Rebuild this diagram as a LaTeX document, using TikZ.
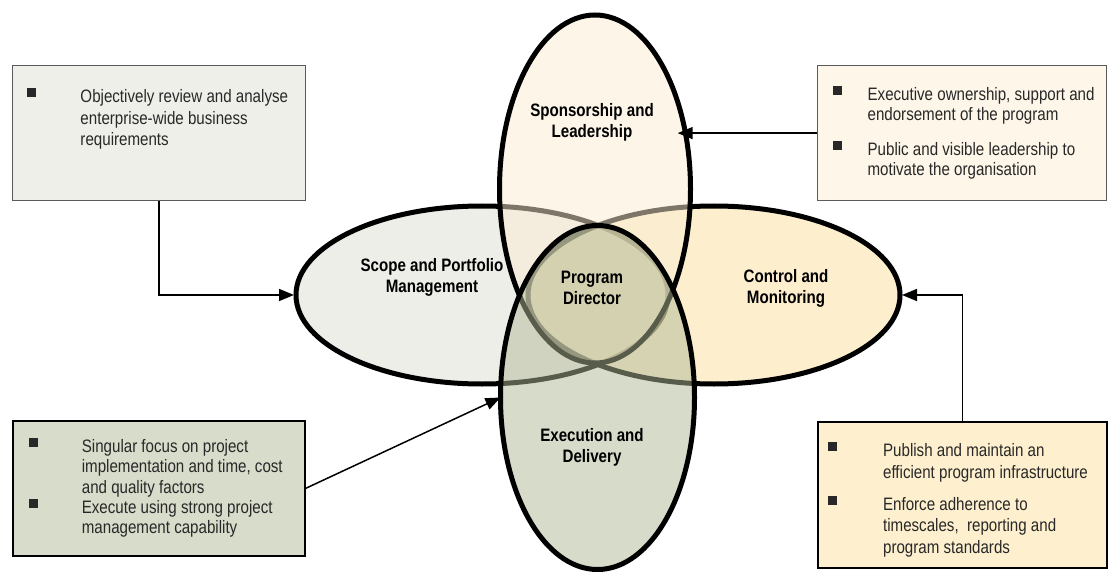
\documentclass[tikz,border=0pt]{standalone}
\usepackage{fontspec}
\setmainfont{Liberation Sans}[FakeStretch=0.84]
\usetikzlibrary{shapes.geometric,arrows.meta}

% translucent fills of the four areas (painted at 50% opacity)
\definecolor{scopefill}{RGB}{223,223,213}
\definecolor{controlfill}{RGB}{253,225,159}
\definecolor{sponsorfill}{RGB}{251,237,211}
\definecolor{execfill}{RGB}{177,185,151}
% opaque fills of the note boxes
\definecolor{reqfill}{RGB}{239,239,234}
\definecolor{leadfill}{RGB}{253,246,233}
\definecolor{deliverfill}{RGB}{216,220,203}
\definecolor{stdfill}{RGB}{254,240,206}
\definecolor{notetext}{RGB}{40,40,40}
\definecolor{thinframe}{RGB}{90,90,90}

% line strut and bulleted item: #1 bullet indent, #2 text indent, #3 lines
\newcommand\notestrut{\vrule height 14pt depth 5pt width 0pt}
\newcommand\noteitem[3]{\par\noindent\hangindent=#2\relax\hangafter=1\relax
  \makebox[#2][l]{\hspace*{#1}\raisebox{5.5pt}{\rule{9pt}{9pt}}}\notestrut#3\notestrut\par}

\tikzset{
  venn/.style={ellipse, draw=black, line width=5pt, fill opacity=0.5,
    draw opacity=1, text opacity=1, inner sep=0pt, outer sep=0pt},
  venntext/.style={align=center, text=black, inner sep=0pt,
    font=\fontsize{18pt}{21pt}\selectfont\bfseries},
  notebox/.style={draw, inner sep=0pt, anchor=north west, text=notetext},
  conn/.style={line width=1.5pt, draw=black,
    -{Triangle[length=15pt,width=12pt]}}
}

\begin{document}
\begin{tikzpicture}[x=1pt,y=-1pt]
\path[use as bounding box, fill=white] (0,0) rectangle (1108,572);

% overlapping areas, later ones painted over earlier ones
\node[venn, fill=scopefill, minimum width=372pt, minimum height=178pt] (scope) at (482,295) {};
\node[venn, fill=controlfill, minimum width=372pt, minimum height=178pt] (control) at (714,295) {};
\node[venn, fill=sponsorfill, minimum width=191pt, minimum height=348pt] (sponsor) at (595,189) {};
\node[venn, fill=execfill, minimum width=194pt, minimum height=344pt] (exec) at (597.5,397.5) {};

% area titles
\node[venntext] (scopelbl) at (432,277) {Scope and Portfolio\\Management};
\node[venntext] (sponsorlbl) at (592,122) {Sponsorship and\\Leadership};
\node[venntext] (controllbl) at (786,288) {Control and\\Monitoring};
\node[venntext] (execlbl) at (592,447) {Execution and\\Delivery};
\node[venntext] (director) at (592,288) {Program\\Director};

% note boxes
\node[notebox, fill=reqfill, draw=thinframe, line width=1pt] (reqbox) at (12,65)
  {\parbox[c][135pt][t]{293pt}{\fontsize{18pt}{21.5pt}\selectfont\raggedright
   \vspace*{23pt}%
   \noteitem{15pt}{68pt}{Objectively review and analyse\newline enterprise-wide business\newline requirements}}};

\node[notebox, fill=leadfill, draw=thinframe, line width=1.2pt] (leadbox) at (817,65)
  {\parbox[c][135pt][c]{289pt}{\fontsize{18pt}{20pt}\selectfont\raggedright
   \noteitem{15pt}{50pt}{Executive ownership, support and\newline endorsement of the program}%
   \vspace{15pt}%
   \noteitem{15pt}{50pt}{Public and visible leadership to\newline motivate the organisation}}};

\node[notebox, fill=deliverfill, draw=black, line width=1.7pt] (deliverbox) at (12,420)
  {\parbox[c][135pt][c]{292pt}{\fontsize{18pt}{20.2pt}\selectfont\raggedright
   \noteitem{16pt}{69pt}{Singular focus on project\newline implementation and time, cost\newline and quality factors}%
   \noteitem{16pt}{69pt}{Execute using strong project\newline management capability}}};

\node[notebox, fill=stdfill, draw=black, line width=2.2pt] (stdbox) at (817,421)
  {\parbox[c][146pt][c]{289pt}{\fontsize{18pt}{21.5pt}\selectfont\raggedright
   \vspace*{10pt}%
   \noteitem{10pt}{65pt}{Publish and maintain an\newline efficient program infrastructure}%
   \vspace{10.5pt}%
   \noteitem{10pt}{65pt}{Enforce adherence to\newline timescales,~ reporting and\newline program standards}}};

% connectors
\draw[conn, shorten >=2pt] (reqbox.south) |- (scope.west);
\draw[conn, shorten >=-8pt] (leadbox.west) -- (leadbox.west -| sponsor.31.8);
\draw[conn, shorten >=2pt] (stdbox.north) |- (control.east);
\draw[conn] (deliverbox.east) -- (exec.west);
\end{tikzpicture}
\end{document}
